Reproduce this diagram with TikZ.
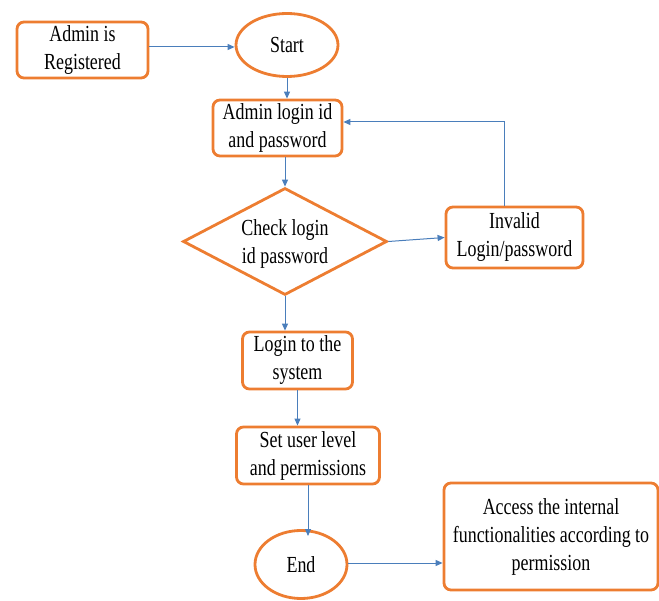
\documentclass[tikz,border=0pt]{standalone}
\usepackage{fontspec}
\setmainfont[FakeStretch=0.78]{Liberation Serif}
\usetikzlibrary{shapes.geometric,arrows.meta}
\definecolor{org}{HTML}{ED7D31}
\definecolor{lnk}{HTML}{4A7EBB}
\begin{document}
\begin{tikzpicture}[x=1pt,y=-1pt,
  txt/.style={font=\fontsize{23}{28}\selectfont,align=center},
  box/.style={txt,draw=org,line width=2.8pt,rounded corners=7pt,inner sep=0pt},
  oval/.style={txt,ellipse,draw=org,line width=2.8pt,inner sep=0pt},
  dia/.style={diamond,draw=org,line width=2.8pt,inner sep=0pt},
  conn/.style={draw=lnk,line width=1pt,-{Triangle[length=7pt,width=6pt]}}]
\useasboundingbox (0,0) rectangle (659,601);
\node[box,minimum width=131pt,minimum height=56pt] (reg) at (82.5,50) {Admin is\\Registered};
\node[oval,minimum width=102pt,minimum height=63pt] (start) at (287,45) {Start};
\node[box,minimum width=129pt,minimum height=56pt] (adm) at (277.5,128) {Admin login id\\and password};
\node[dia,minimum width=204pt,minimum height=107pt] (chk) at (285,241.5) {};
\node[txt] (chkt) at (285,244) {Check login\\id password};
\node[box,minimum width=137pt,minimum height=61pt] (inv) at (514.5,237.5) {Invalid\\Login/password};
\node[box,minimum width=110pt,minimum height=57pt] (lgn) at (297.5,360.5) {Login to the\\system};
\node[box,minimum width=143pt,minimum height=57pt] (set) at (308,455.5) {Set user level\\and permissions};
\node[oval,minimum width=92pt,minimum height=68pt] (end) at (301,564.5) {End};
\node[box,minimum width=214pt,minimum height=107pt] (acc) at (551,536.5) {Access the internal\\functionalities according to\\permission};
\coordinate (c1) at (504,122);
\draw[conn] (reg.east |- 0,47) -- (start.west |- 0,47);
\draw[conn] (start.south) -- (start.south |- adm.north);
\draw[conn] (chk.north |- adm.south) -- (chk.north);
\draw[conn] (chk.east) -- (inv.west);
\draw[conn] (c1 |- inv.north) -- (c1) -- (adm.east |- c1);
\draw[conn] (chk.south) -- (chk.south |- lgn.north);
\draw[conn] (lgn.south) -- (lgn.south |- set.north);
\draw[conn] (set.south) -- (set.south |- 0,536);
\draw[conn] (end.east |- 0,563) -- (acc.west |- 0,563);
\end{tikzpicture}
\end{document}
